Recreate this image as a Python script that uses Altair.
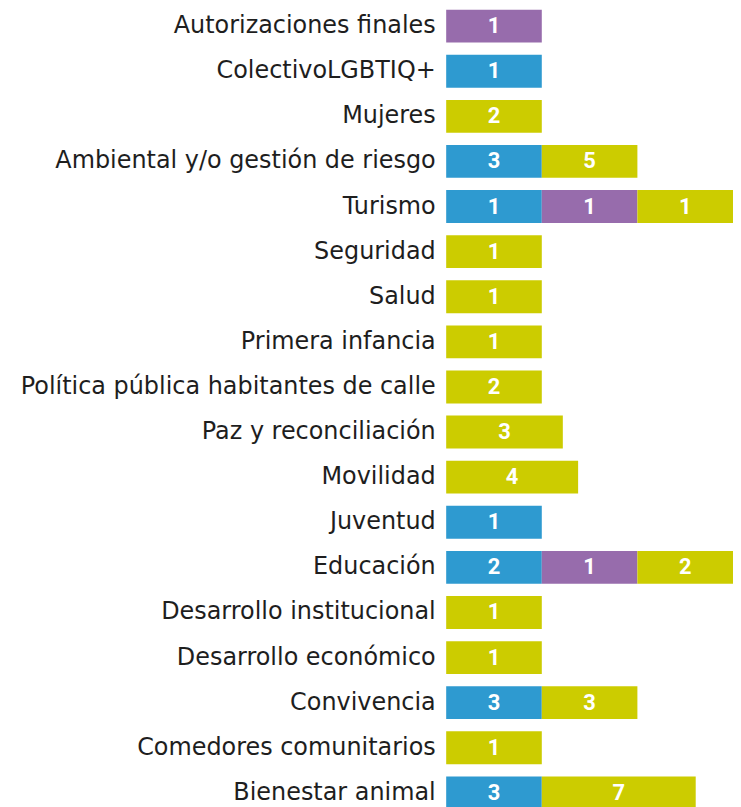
import altair as alt
import pandas as pd

categorias = [
    "Autorizaciones finales",
    "ColectivoLGBTIQ+",
    "Mujeres",
    "Ambiental y/o gestión de riesgo",
    "Turismo",
    "Seguridad",
    "Salud",
    "Primera infancia",
    "Política pública habitantes de calle",
    "Paz y reconciliación",
    "Movilidad",
    "Juventud",
    "Educación",
    "Desarrollo institucional",
    "Desarrollo económico",
    "Convivencia",
    "Comedores comunitarios",
    "Bienestar animal",
]

# counts shown in each segment (0 = no segment)
azul     = [0, 1, 0, 3, 1, 0, 0, 0, 0, 0, 0, 1, 2, 0, 0, 3, 0, 3]
morado   = [1, 0, 0, 0, 1, 0, 0, 0, 0, 0, 0, 0, 1, 0, 0, 0, 0, 0]
amarillo = [0, 0, 2, 5, 1, 1, 1, 1, 2, 3, 4, 0, 2, 1, 1, 3, 1, 7]

# drawn length of each segment (segment units)
largo_azul     = [0, 1, 0, 1, 1, 0, 0, 0, 0, 0, 0, 1, 1, 0, 0, 1, 0, 1]
largo_morado   = [1, 0, 0, 0, 1, 0, 0, 0, 0, 0, 0, 0, 1, 0, 0, 0, 0, 0]
largo_amarillo = [0, 0, 1, 1, 1, 1, 1, 1, 1, 1.22, 1.38, 0, 1, 1, 1, 1, 1, 1.61]

series = ["azul", "morado", "amarillo"]
colores = ["#2e9ad0", "#976cac", "#cccc00"]

rows = []
for i, c in enumerate(categorias):
    for k, (vals, lens) in enumerate([(azul, largo_azul), (morado, largo_morado), (amarillo, largo_amarillo)]):
        if vals[i] > 0:
            rows.append({"categoria": c, "serie": series[k], "orden": k,
                         "valor": vals[i], "largo": lens[i]})
df = pd.DataFrame(rows)

base = alt.Chart(df).transform_stack(
    stack="largo", groupby=["categoria"], sort=[alt.SortField("orden")], as_=["x0", "x1"]
).transform_calculate(mid="(datum.x0 + datum.x1) / 2")

yenc = alt.Y(
    "categoria:N",
    sort=categorias,
    scale=alt.Scale(paddingInner=0.27, paddingOuter=0),
    axis=alt.Axis(title=None, domain=False, ticks=False, labelFontSize=24,
                  labelFont="DejaVu Sans", labelColor="#1e1e1e", labelPadding=11,
                  labelLimit=500),
)
xscale = alt.Scale(domain=[0, 3], nice=False, zero=True)

bars = base.mark_bar(size=33, cornerRadius=0).encode(
    x=alt.X("x0:Q", scale=xscale, axis=None),
    x2="x1:Q",
    y=yenc,
    color=alt.Color("serie:N", scale=alt.Scale(domain=series, range=colores), legend=None),
)

texts = base.mark_text(color="white", fontSize=22, fontWeight="bold",
                       font="Roboto", baseline="middle", align="center").encode(
    x=alt.X("mid:Q", scale=xscale, axis=None),
    y=yenc,
    text="valor:Q",
)

chart = alt.layer(bars, texts).properties(
    width=288, height=803,
    padding={"left": 440, "top": 0, "right": 0, "bottom": 0},
    autosize="none",
).configure_view(stroke=None)

chart.save("out.html", embed_options={"renderer": "svg", "actions": False})
